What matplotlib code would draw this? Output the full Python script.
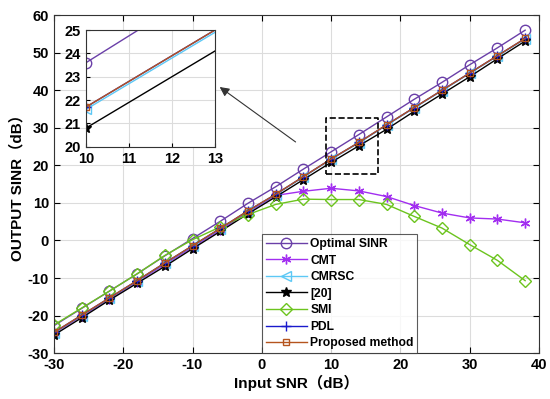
import numpy as np
import matplotlib.pyplot as plt

plt.rcParams['font.family'] = ['Liberation Sans', 'Noto Sans CJK SC', 'DejaVu Sans']
plt.rcParams['font.weight'] = 'bold'
plt.rcParams['axes.unicode_minus'] = False

# input SNR (dB)
snr = np.arange(-30, 39, 4)

# output SINR (dB)
optimal = [-22.7, -18.1, -13.5, -8.9, -4.1, 0.5, 5.1, 9.9, 14.3, 19.0,
           23.6, 28.2, 32.9, 37.6, 42.1, 46.8, 51.3, 56.0]
cmt = [-24.7, -20.2, -15.6, -11.0, -6.4, -1.8, 2.8, 7.5, 12.0, 13.1,
       13.9, 13.2, 11.7, 9.3, 7.3, 6.0, 5.7, 4.7]
cmrsc = [-24.6, -20.0, -15.4, -10.8, -6.1, -1.5, 3.1, 7.8, 12.2, 16.9,
         21.6, 26.0, 30.7, 35.3, 39.9, 44.5, 49.1, 53.7]
ref20 = [-25.2, -20.6, -15.9, -11.4, -6.9, -2.2, 2.4, 7.1, 11.6, 16.2,
         20.8, 25.2, 29.6, 34.4, 39.0, 43.6, 48.4, 53.1]
smi = [-22.5, -18.0, -13.5, -8.9, -4.0, 0.2, 3.6, 6.9, 9.6, 11.0,
       10.9, 10.9, 9.6, 6.4, 3.3, -1.1, -5.3, -10.7]
pdl = [-24.5, -19.9, -15.3, -10.7, -6.0, -1.4, 3.2, 7.9, 12.3, 17.0,
       21.7, 26.1, 30.8, 35.4, 40.0, 44.6, 49.2, 53.8]
proposed = [-24.5, -19.9, -15.3, -10.7, -6.0, -1.4, 3.2, 7.9, 12.3, 17.0,
            21.7, 26.1, 30.8, 35.4, 40.0, 44.6, 49.2, 53.8]

asterisk = (6, 2, 0)
series = [
    ("Optimal SINR", optimal, '#6A3FA8', 'o', 'none', 7.5),
    ("CMT", cmt, '#A22EF0', asterisk, None, 7),
    ("CMRSC", cmrsc, '#5CC8F5', '<', 'none', 6.5),
    ("[20]", ref20, 'black', '*', None, 7.5),
    ("SMI", smi, '#6CC41E', 'D', 'none', 6),
    ("PDL", pdl, '#1A1ACC', '+', None, 7.5),
    ("Proposed method", proposed, '#B5541E', 's', 'none', 5),
]


def draw(ax):
    for name, vals, c, m, fc, ms in series:
        ax.plot(snr, vals, color=c, marker=m, markersize=ms,
                markerfacecolor=fc if fc else c, markeredgecolor=c,
                linewidth=1.0, label=name)


fig = plt.figure(figsize=(5.5, 3.99), dpi=100)
ax = fig.add_axes([0.098, 0.115, 0.882, 0.847])
draw(ax)
ax.set_xlim(-30, 40)
ax.set_ylim(-30, 60)
ax.set_xticks(np.arange(-30, 41, 10))
ax.set_yticks(np.arange(-30, 61, 10))
ax.grid(True, color='#DCDCDC', linewidth=0.8)
ax.set_axisbelow(True)
ax.tick_params(direction='in', labelsize=10.5, length=4, top=True, right=True,
               labeltop=False, labelright=False)
for s in ax.spines.values():
    s.set_color('#333333')
ax.set_xlabel("Input SNR（dB）", fontsize=11, fontweight='bold', labelpad=2)
ax.set_ylabel("OUTPUT SINR（dB）", fontsize=11, fontweight='bold', labelpad=2)

leg = ax.legend(loc='lower left', bbox_to_anchor=(0.429, 0.0), fontsize=8.7,
                frameon=True, fancybox=False, edgecolor='#333333',
                borderpad=0.3, labelspacing=0.38, handlelength=3.4,
                handletextpad=0.3, borderaxespad=0.0)
leg.get_frame().set_linewidth(0.8)

# zoom box around the region of interest
ax.plot([9.3, 16.8, 16.8, 9.3, 9.3], [17.6, 17.6, 32.5, 32.5, 17.6],
        color='black', linestyle='--', linewidth=1.2)
ax.annotate('', xy=(-6.4, 41.3), xytext=(5.2, 25.8),
            arrowprops=dict(arrowstyle='-|>', color='#333333', lw=0.8,
                            mutation_scale=14, fc='#333333'))

# inset
ins = fig.add_axes([0.156, 0.632, 0.2345, 0.2925])
draw(ins)
ins.set_xlim(10, 13)
ins.set_ylim(20, 25)
ins.set_xticks([10, 11, 12, 13])
ins.set_yticks([20, 21, 22, 23, 24, 25])
ins.grid(True, color='#DCDCDC', linewidth=0.8)
ins.tick_params(direction='in', labelsize=10.5, length=3)
for s in ins.spines.values():
    s.set_color('#333333')
for lb in ax.get_xticklabels() + ax.get_yticklabels() + ins.get_xticklabels() + ins.get_yticklabels():
    lb.set_fontweight('bold')

fig.savefig('out.png', dpi=100)
